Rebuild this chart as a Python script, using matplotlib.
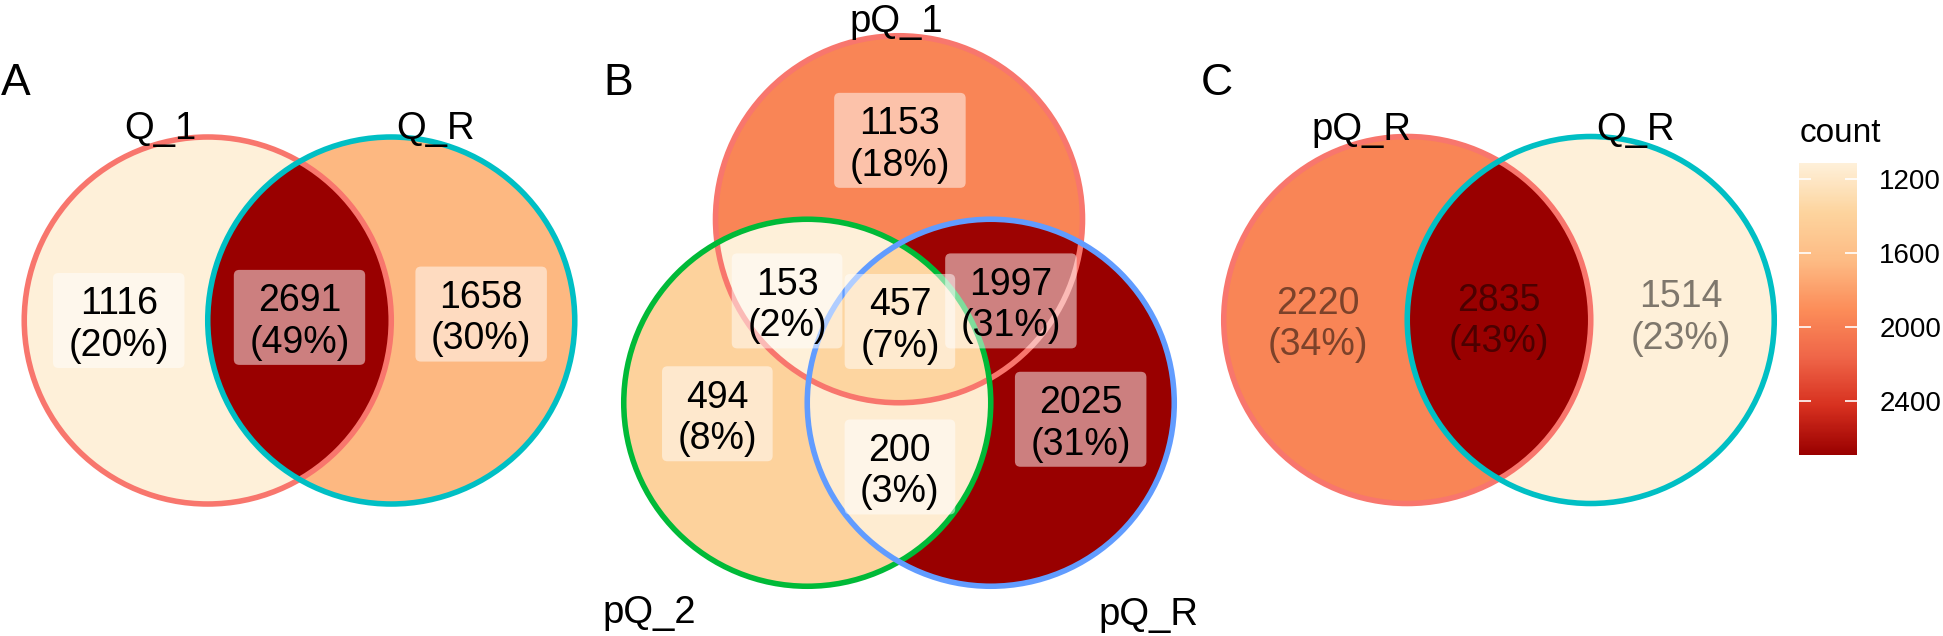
import matplotlib
matplotlib.use("Agg")
import matplotlib.pyplot as plt
import numpy as np
from matplotlib.colors import LinearSegmentedColormap, Normalize
from matplotlib.cm import ScalarMappable
from matplotlib.patches import Ellipse, FancyBboxPatch

plt.rcParams["font.family"] = ["Liberation Sans", "DejaVu Sans"]

# ---- data ----
# region = tuple of set indices the region belongs to
names_a = ["Q_1", "Q_R"]
regions_a = [(0,), (0, 1), (1,)]
counts_a = [1116, 2691, 1658]

names_b = ["pQ_1", "pQ_2", "pQ_R"]
regions_b = [(0,), (0, 1), (0, 2), (0, 1, 2), (1,), (1, 2), (2,)]
counts_b = [1153, 153, 1997, 457, 494, 200, 2025]

names_c = ["pQ_R", "Q_R"]
regions_c = [(0,), (0, 1), (1,)]
counts_c = [2220, 2835, 1514]

legend_ticks = [1200, 1600, 2000, 2400]

# ---- layout (unit circle coords) ----
centers_2 = [(-0.5, 0.0), (0.5, 0.0)]
centers_3 = [(0.0, 0.5), (-0.5, -0.5), (0.5, -0.5)]
edge_2 = ["#F8766D", "#00BFC4"]
edge_3 = ["#F8766D", "#00BA38", "#619CFF"]

anchors_2 = [(-0.985, 0.0), (0.0, 0.017), (0.99, 0.035)]
anchors_3 = [(0.005, 0.93), (-0.61, 0.055), (0.61, 0.055), (0.005, -0.057),
             (-0.99, -0.56), (0.005, -0.85), (0.99, -0.59)]
setlab_a = [(-0.76, 0.99), (0.74, 0.99)]
setlab_b = [(-0.016, 1.52), (-1.36, -1.70), (1.357, -1.71)]
setlab_c = [(-0.747, 0.98), (0.744, 0.98)]

cmap = LinearSegmentedColormap.from_list(
    "orrd", ["#FEF0D9", "#FDD49E", "#FDBB84", "#FC8D59", "#EF6548", "#D7301F", "#990000"])

W, H = 1943, 636
SCALE = 183.5
fig = plt.figure(figsize=(W / 100, H / 100), dpi=100)
renderer = fig.canvas.get_renderer()


def panel_axes(ox, oy, half=1.8):
    size = 2 * half * SCALE
    ax = fig.add_axes([(ox - half * SCALE) / W, 1 - (oy + half * SCALE) / H, size / W, size / H])
    ax.set_xlim(-half, half)
    ax.set_ylim(-half, half)
    ax.axis("off")
    return ax


def circle_pts(c, n=2000):
    t = np.linspace(0, 2 * np.pi, n, endpoint=False)
    return np.column_stack([c[0] + np.cos(t), c[1] + np.sin(t)])


def intersection(centers, sets):
    pts = []
    for i in sets:
        p = circle_pts(centers[i])
        mask = np.ones(len(p), bool)
        for j in sets:
            if j != i:
                mask &= np.hypot(p[:, 0] - centers[j][0], p[:, 1] - centers[j][1]) <= 1.0 + 1e-9
        pts.append(p[mask])
    pts = np.vstack(pts)
    m = pts.mean(axis=0)
    order = np.argsort(np.arctan2(pts[:, 1] - m[1], pts[:, 0] - m[0]))
    return pts[order]


def draw_venn(ax, names, centers, edges, regions, counts, anchors, setlabs,
              boxed=True, text_alpha=1.0):
    norm = Normalize(min(counts), max(counts))
    total = sum(counts)
    order = sorted(range(len(regions)), key=lambda k: len(regions[k]))
    for k in order:
        poly = intersection(centers, regions[k])
        ax.fill(poly[:, 0], poly[:, 1], color=cmap(norm(counts[k])), lw=0, zorder=1)
    for c, col in zip(centers, edges):
        ax.add_patch(Ellipse(c, 2, 2, fill=False, edgecolor=col, lw=4, zorder=2))
    for k, (x, y) in enumerate(anchors):
        t1 = ax.annotate(str(counts[k]), (x, y), xytext=(0, 4.5), textcoords="offset points",
                         ha="center", va="baseline", fontsize=27, alpha=text_alpha, zorder=4)
        t2 = ax.annotate(f"({counts[k] / total:.0%})", (x, y), xytext=(0, -25.5),
                         textcoords="offset points", ha="center", va="baseline",
                         fontsize=27, alpha=text_alpha, zorder=4)
        if boxed:
            wpx = max(t1.get_window_extent(renderer).width,
                      t2.get_window_extent(renderer).width) + 31
            bw, bh = wpx / SCALE, 95 / SCALE
            ax.add_patch(FancyBboxPatch((x - bw / 2, y - bh / 2), bw, bh,
                                        boxstyle="round,pad=0,rounding_size=0.03",
                                        fc="white", ec="none", alpha=0.5, zorder=3))
    for nm, (x, y) in zip(names, setlabs):
        ax.text(x, y, nm, ha="center", va="baseline", fontsize=27.5, zorder=5)


ax_a = panel_axes(299.5, 320.5)
draw_venn(ax_a, names_a, centers_2, edge_2, regions_a, counts_a, anchors_2, setlab_a)

ax_b = panel_axes(899, 311)
draw_venn(ax_b, names_b, centers_3, edge_3, regions_b, counts_b, anchors_3, setlab_b)

ax_c = panel_axes(1499, 320)
draw_venn(ax_c, names_c, centers_2, edge_2, regions_c, counts_c, anchors_2, setlab_c,
          boxed=False, text_alpha=0.5)

# panel tags
for tag, x in zip(["A", "B", "C"], [1, 603, 1201]):
    fig.text(x / W, 1 - 95 / H, tag, fontsize=32, ha="left", va="baseline")

# colour legend (scale of panel A)
cax = fig.add_axes([1799 / W, 1 - 455 / H, 58 / W, 292 / H])
sm = ScalarMappable(norm=Normalize(min(counts_a), max(counts_a)), cmap=cmap)
cb = fig.colorbar(sm, cax=cax, ticks=legend_ticks)
cb.outline.set_visible(False)
cax.invert_yaxis()
cax.tick_params(direction="in", color="white", length=8.5, width=1.2,
                left=True, right=True, labelsize=20, pad=16)
fig.text(1800 / W, 1 - 142 / H, "count", fontsize=24, ha="left", va="baseline")

fig.savefig("out.png", dpi=100)
